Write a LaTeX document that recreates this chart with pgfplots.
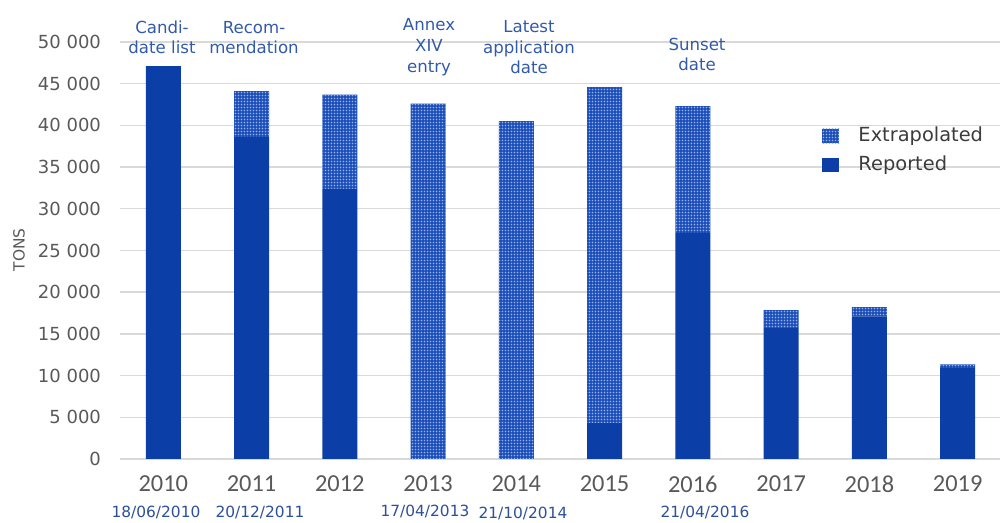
\documentclass[border=0pt]{standalone}
\usepackage{fontspec}
\setmainfont{DejaVu Sans}
\newfontfamily\carlito{Carlito}
\usepackage{pgfplots}
\pgfplotsset{compat=1.18}
\usetikzlibrary{patterns}
\pgfdeclarepatternformonly{finedots}{\pgfpoint{-0.1pt}{-0.1pt}}{\pgfpoint{1.6pt}{1.6pt}}{\pgfpoint{1.5pt}{1.5pt}}{\pgfpathcircle{\pgfpoint{0.75pt}{0.75pt}}{0.42pt}\pgfusepath{fill}}
\definecolor{rep}{RGB}{12,62,168}
\definecolor{ext}{RGB}{28,78,185}
\definecolor{dotc}{RGB}{150,180,235}
\definecolor{annot}{RGB}{50,90,170}
\definecolor{dates}{RGB}{45,80,155}
\definecolor{tickgray}{RGB}{89,89,89}
\definecolor{gridgray}{RGB}{217,217,217}
\definecolor{legtext}{RGB}{60,60,60}

\pgfplotstableread{
x rep ext
0 47100 0
1 38600 5500
2 32400 11300
3 0 42600
4 0 40500
5 4300 40300
6 27100 15200
7 15700 2150
8 17100 1100
9 10900 450
}\datatable

\newcommand{\ann}[3]{\node[font=\fontsize{8.3}{10.25}\selectfont, text=annot, inner sep=0pt, text height=6pt, text depth=0pt, anchor=center] at ({#1*0.5pt},{(523-#2)*0.5pt}) {#3};}
\newcommand{\dat}[3]{\node[font=\fontsize{7.7}{9}\selectfont, text=dates, inner sep=0pt, text height=5.6pt, text depth=0pt, anchor=center] at ({#1*0.5pt},{(523-#2)*0.5pt}) {#3};}

\begin{document}
\begin{tikzpicture}
\useasboundingbox (0,0) rectangle (500.5pt,261.5pt);
\begin{axis}[
  at={(60pt,32pt)}, anchor=south west,
  scale only axis, width=440pt, height=208.5pt,
  ybar stacked, bar width=17.5pt,
  xmin=-0.49, xmax=9.48, ymin=0, ymax=50000,
  scaled y ticks=false,
  xtick={0,...,9}, xticklabels={2010,2011,2012,2013,2014,2015,2016,2017,2018,2019},
  ytick={0,5000,10000,15000,20000,25000,30000,35000,40000,45000,50000},
  yticklabels={0,5 000,10 000,15 000,20 000,25 000,30 000,35 000,40 000,45 000,50 000},
  ymajorgrids, grid style={gridgray, line width=0.7pt},
  axis line style={draw=none}, major tick length=0pt,
  xticklabel style={font=\carlito\fontsize{12.2}{13}\selectfont, text=tickgray, yshift=-5pt},
  yticklabel style={font=\fontsize{9}{10}\selectfont, text=tickgray, xshift=-6pt},
  legend style={at={(0.791,0.816)}, anchor=north west, draw=none, fill=none,
    font=\fontsize{9.7}{11}\selectfont, text=legtext, row sep=1.5pt,
    /tikz/every odd column/.style={column sep=7.5pt}},
  legend cell align=left,
  reverse legend,
  legend image code/.code={\path[#1,draw=none] (0pt,-3.6pt) rectangle (8.5pt,3.6pt);},
]
\addplot[fill=rep, draw=none] table[x=x, y=rep] {\datatable};
\addlegendentry{Reported}
\addplot[fill=ext, draw=none, postaction={pattern=finedots, pattern color=dotc}] table[x=x, y=ext] {\datatable};
\addlegendentry{Extrapolated}
\end{axis}
\node[rotate=90, font=\fontsize{7.7}{9}\selectfont, text=tickgray] at ({19*0.5pt},{(523-250)*0.5pt}) {TONS};
\ann{162}{28}{Candi-}
\ann{162}{48}{date list}
\ann{254}{28}{Recom-}
\ann{254}{48}{mendation}
\ann{429}{25}{Annex}
\ann{429}{46}{XIV}
\ann{429}{67}{entry}
\ann{529}{27}{Latest}
\ann{529}{48}{application}
\ann{529}{68}{date}
\ann{697}{45}{Sunset}
\ann{697}{65}{date}
\dat{156}{512}{18/06/2010}
\dat{260}{512}{20/12/2011}
\dat{425}{511}{17/04/2013}
\dat{523}{513}{21/10/2014}
\dat{705}{512}{21/04/2016}
\end{tikzpicture}
\end{document}
